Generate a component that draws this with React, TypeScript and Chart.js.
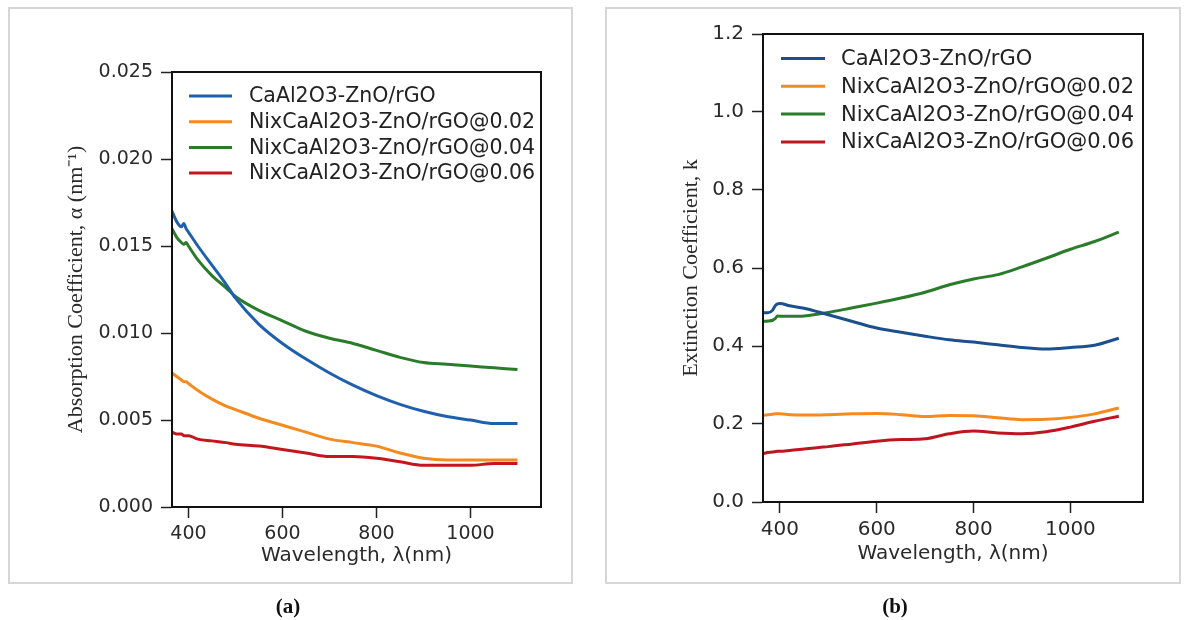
import React, { useEffect, useRef } from 'react';
import { Chart, registerables } from 'chart.js';

Chart.register(...registerables);

// ---------- data ----------
const wavelengths = [365, 375, 385, 390, 395, 400, 420, 450, 480, 500, 550, 600, 650, 700, 750, 800, 850, 900, 950, 1000, 1050, 1100];

const seriesLabels = [
  'CaAl2O3-ZnO/rGO',
  'NixCaAl2O3-ZnO/rGO@0.02',
  'NixCaAl2O3-ZnO/rGO@0.04',
  'NixCaAl2O3-ZnO/rGO@0.06',
];

// (a) Absorption coefficient (nm^-1)
const alphaBase = [0.0170, 0.0164, 0.0161, 0.0163, 0.0160, 0.0158, 0.0150, 0.0139, 0.0128, 0.0120, 0.0105, 0.0094, 0.0085, 0.0077, 0.0070, 0.0064, 0.0059, 0.0055, 0.0052, 0.0050, 0.0048, 0.0048];
const alphaNi002 = [0.0077, 0.0075, 0.0073, 0.0072, 0.0072, 0.0071, 0.0067, 0.0062, 0.0058, 0.0056, 0.0051, 0.0047, 0.0043, 0.0039, 0.0037, 0.0035, 0.0031, 0.0028, 0.0027, 0.0027, 0.0027, 0.0027];
const alphaNi004 = [0.0160, 0.0155, 0.0152, 0.0151, 0.0152, 0.0150, 0.0142, 0.0133, 0.0126, 0.0121, 0.0113, 0.0107, 0.0101, 0.0097, 0.0094, 0.0090, 0.0086, 0.0083, 0.0082, 0.0081, 0.0080, 0.0079];
const alphaNi006 = [0.0043, 0.0042, 0.0042, 0.0041, 0.0041, 0.0041, 0.0039, 0.0038, 0.0037, 0.0036, 0.0035, 0.0033, 0.0031, 0.0029, 0.0029, 0.0028, 0.0026, 0.0024, 0.0024, 0.0024, 0.0025, 0.0025];

// (b) Extinction coefficient k
const kBase = [0.485, 0.485, 0.492, 0.503, 0.508, 0.509, 0.503, 0.497, 0.487, 0.480, 0.463, 0.446, 0.435, 0.425, 0.416, 0.410, 0.403, 0.396, 0.392, 0.396, 0.402, 0.420];
const kNi002 = [0.222, 0.224, 0.225, 0.226, 0.226, 0.226, 0.224, 0.223, 0.223, 0.224, 0.226, 0.227, 0.224, 0.219, 0.222, 0.221, 0.216, 0.211, 0.212, 0.217, 0.226, 0.241];
const kNi004 = [0.463, 0.464, 0.466, 0.470, 0.477, 0.476, 0.476, 0.477, 0.482, 0.486, 0.498, 0.510, 0.523, 0.538, 0.557, 0.572, 0.583, 0.603, 0.625, 0.648, 0.668, 0.692];
const kNi006 = [0.124, 0.127, 0.128, 0.129, 0.130, 0.130, 0.132, 0.136, 0.140, 0.142, 0.149, 0.156, 0.160, 0.162, 0.175, 0.182, 0.177, 0.175, 0.180, 0.192, 0.207, 0.220];

const xTickValues = [400, 600, 800, 1000];
const yTicksA = [0, 0.005, 0.01, 0.015, 0.02, 0.025];
const yTicksB = [0, 0.2, 0.4, 0.6, 0.8, 1.0, 1.2];

const colorsA = ['#1f60ad', '#f58a1f', '#2a7b2a', '#c3161f'];
const colorsB = ['#1c4f8d', '#f58a1f', '#2a7b2a', '#be1620'];

// ---------- plugin: frame + legend ----------
const framePlugin = {
  id: 'frameLegend',
  afterDatasetsDraw(chart: any, _args: any, opts: any) {
    const { ctx, chartArea } = chart;
    const { left, top, right, bottom } = chartArea;
    ctx.save();
    ctx.strokeStyle = '#111';
    ctx.lineWidth = 2;
    ctx.strokeRect(left, top, right - left, bottom - top);
    const lg = opts;
    chart.data.datasets.forEach((ds: any, i: number) => {
      const y = top + lg.first + i * lg.step;
      ctx.strokeStyle = ds.borderColor;
      ctx.lineWidth = 3;
      ctx.beginPath();
      ctx.moveTo(left + lg.lineStart, y);
      ctx.lineTo(left + lg.lineEnd, y);
      ctx.stroke();
      ctx.fillStyle = '#222';
      ctx.font = lg.font;
      ctx.textBaseline = 'middle';
      ctx.textAlign = 'left';
      ctx.fillText(ds.label, left + lg.textStart, y + 1);
    });
    ctx.restore();
  },
};

type PanelCfg = {
  series: number[][];
  colors: string[];
  yTicks: number[];
  yMax: number;
  decimals: number;
  yTitle: string;
  pad: { left: number; top: number; right: number; bottom: number };
  yWidth: number;
  xHeight: number;
  yTitlePad: number;
  xTitlePad: number;
  tickFont: number;
  legend: any;
};

function makeChart(canvas: HTMLCanvasElement, cfg: PanelCfg) {
  const tickFont = { family: "'DejaVu Sans', sans-serif", size: cfg.tickFont };
  return new Chart(canvas, {
    type: 'line',
    data: {
      datasets: cfg.series.map((vals, i) => ({
        label: seriesLabels[i],
        data: wavelengths.map((w, j) => ({ x: w, y: vals[j] })),
        borderColor: cfg.colors[i],
        backgroundColor: cfg.colors[i],
        borderWidth: 3,
        pointRadius: 0,
        cubicInterpolationMode: 'monotone' as const,
        fill: false,
      })),
    },
    options: {
      animation: false,
      responsive: false,
      maintainAspectRatio: false,
      layout: { padding: cfg.pad },
      plugins: {
        legend: { display: false },
        tooltip: { enabled: false },
        frameLegend: cfg.legend,
      } as any,
      scales: {
        x: {
          type: 'linear',
          min: 365,
          max: 1150,
          afterBuildTicks: (s: any) => {
            s.ticks = xTickValues.map((v) => ({ value: v }));
          },
          afterFit: (s: any) => {
            s.height = cfg.xHeight;
          },
          grid: { drawOnChartArea: false, tickLength: 11, tickColor: '#222', tickWidth: 1.5 },
          border: { color: '#111', width: 2 },
          ticks: { font: tickFont, color: '#2a2a2a', padding: 5, maxRotation: 0, callback: (v: any) => String(v) },
          title: {
            display: true,
            text: 'Wavelength, λ(nm)',
            color: '#2a2a2a',
            font: { family: "'DejaVu Sans', sans-serif", size: 20 },
            padding: { top: 0, bottom: cfg.xTitlePad },
          },
        },
        y: {
          type: 'linear',
          min: 0,
          max: cfg.yMax,
          afterBuildTicks: (s: any) => {
            s.ticks = cfg.yTicks.map((v) => ({ value: v }));
          },
          afterFit: (s: any) => {
            s.width = cfg.yWidth;
          },
          grid: { drawOnChartArea: false, tickLength: 11, tickColor: '#222', tickWidth: 1.5 },
          border: { color: '#111', width: 2 },
          ticks: { font: tickFont, color: '#2a2a2a', padding: 8, callback: (v: any) => Number(v).toFixed(cfg.decimals) },
          title: {
            display: true,
            text: cfg.yTitle,
            color: '#2a2a2a',
            font: { family: "'Liberation Serif', serif", size: 22 },
            padding: { top: cfg.yTitlePad, bottom: 0 },
          },
        },
      },
    } as any,
    plugins: [framePlugin],
  });
}

function Panel({ cfg, left }: { cfg: PanelCfg; left: number }) {
  const ref = useRef<HTMLCanvasElement | null>(null);
  useEffect(() => {
    if (!ref.current) return;
    const ch = makeChart(ref.current, cfg);
    return () => ch.destroy();
  }, []);
  return (
    <canvas
      ref={ref}
      width={594}
      height={620}
      style={{ position: 'absolute', left, top: 0, width: 594, height: 620, display: 'block' }}
    />
  );
}

const cfgA: PanelCfg = {
  series: [alphaBase, alphaNi002, alphaNi004, alphaNi006],
  colors: colorsA,
  yTicks: yTicksA,
  yMax: 0.025,
  decimals: 3,
  yTitle: 'Absorption Coefficient, α (nm⁻¹)',
  pad: { left: 0, top: 72, right: 53, bottom: 0 },
  yWidth: 172,
  xHeight: 113,
  yTitlePad: 63,
  xTitlePad: 52,
  tickFont: 19,
  legend: { first: 24, step: 25.7, lineStart: 17, lineEnd: 60, textStart: 77, font: "20.5px 'DejaVu Sans', sans-serif" },
};

const cfgB: PanelCfg = {
  series: [kBase, kNi002, kNi004, kNi006],
  colors: colorsB,
  yTicks: yTicksB,
  yMax: 1.2,
  decimals: 1,
  yTitle: 'Extinction Coefficient, k',
  pad: { left: 0, top: 34, right: 45, bottom: 0 },
  yWidth: 169,
  xHeight: 118,
  yTitlePad: 84,
  xTitlePad: 54,
  tickFont: 20,
  legend: { first: 24.5, step: 27.8, lineStart: 18, lineEnd: 62, textStart: 78, font: "21px 'DejaVu Sans', sans-serif" },
};

export default function App() {
  const box = (l: number, w: number): React.CSSProperties => ({
    position: 'absolute',
    left: l,
    top: 7,
    width: w,
    height: 577,
    border: '2px solid #d6d6d6',
    boxSizing: 'border-box',
  });
  const cap = (cx: number): React.CSSProperties => ({
    position: 'absolute',
    left: cx - 40,
    width: 80,
    top: 594,
    textAlign: 'center',
    fontFamily: "'Liberation Serif', serif",
    fontWeight: 'bold',
    fontSize: 21,
    lineHeight: '24px',
    color: '#111',
  });
  return (
    <div style={{ position: 'fixed', left: 0, top: 0, width: 1188, height: 620, background: '#fff', overflow: 'hidden' }}>
      <div style={box(8, 565)} />
      <div style={box(605, 576)} />
      <Panel cfg={cfgA} left={0} />
      <Panel cfg={cfgB} left={594} />
      <div style={cap(288)}>(a)</div>
      <div style={cap(895)}>(b)</div>
    </div>
  );
}
